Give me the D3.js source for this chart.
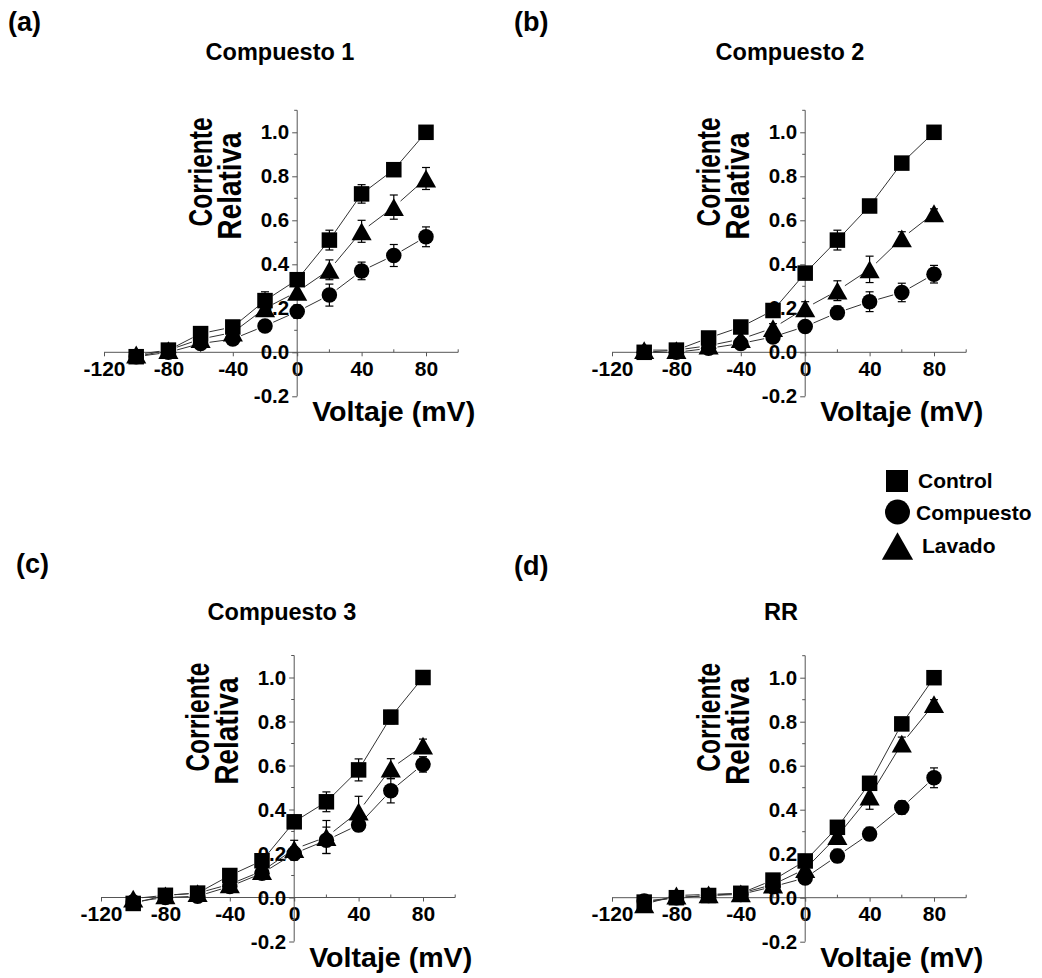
<!DOCTYPE html>
<html>
<head>
<meta charset="utf-8">
<script src="https://cdn.jsdelivr.net/npm/d3@7"></script>
<style>
  html, body { margin: 0; padding: 0; background: #fff; }
  svg { display: block; font-family: "Liberation Sans", Arial, sans-serif; font-weight: bold; }
</style>
</head>
<body>
<svg id="chart" width="1042" height="978"></svg>
<script>
// Test potentials (mV)
const voltages = [-100, -80, -60, -40, -20, 0, 20, 40, 60, 80];
const seriesNames = ["Control", "Compuesto", "Lavado"];
const panelLabels = ["(a)", "(b)", "(c)", "(d)"];
const panelTitles = ["Compuesto 1", "Compuesto 2", "Compuesto 3", "RR"];
const xTickValues = [-120, -80, -40, 0, 40, 80];
const xMinorValues = [-100, -60, -20, 20, 60, 100];
const yTickValues = [-0.2, 0.0, 0.2, 0.4, 0.6, 0.8, 1.0];
const yMinorValues = [-0.1, 0.1, 0.3, 0.5, 0.7, 0.9, 1.1];
const xLabel = "Voltaje (mV)";
const yLabelLines = ["Corriente", "Relativa"];

// Relative current, mean values
const control1   = [-0.02, 0.01, 0.085, 0.115, 0.235, 0.33, 0.51, 0.72, 0.83, 1.00];
const compuesto1 = [-0.02, 0.00, 0.04, 0.06, 0.12, 0.185, 0.26, 0.37, 0.44, 0.525];
const lavado1    = [-0.01, 0.01, 0.06, 0.09, 0.20, 0.275, 0.375, 0.55, 0.66, 0.79];

const control2   = [0.00, 0.01, 0.065, 0.115, 0.19, 0.36, 0.51, 0.665, 0.86, 1.00];
const compuesto2 = [0.00, 0.00, 0.018, 0.04, 0.07, 0.117, 0.18, 0.23, 0.272, 0.355];
const lavado2    = [0.01, 0.01, 0.03, 0.06, 0.11, 0.20, 0.28, 0.377, 0.518, 0.632];

const control3   = [-0.027, 0.01, 0.02, 0.10, 0.167, 0.344, 0.435, 0.58, 0.82, 1.00];
const compuesto3 = [-0.02, 0.00, 0.006, 0.05, 0.11, 0.20, 0.26, 0.33, 0.485, 0.605];
const lavado3    = [-0.005, 0.01, 0.02, 0.06, 0.12, 0.22, 0.275, 0.39, 0.586, 0.69];

const controlRR   = [-0.02, 0.00, 0.01, 0.02, 0.08, 0.167, 0.32, 0.52, 0.79, 1.00];
const compuestoRR = [-0.015, 0.00, 0.01, 0.015, 0.05, 0.09, 0.19, 0.29, 0.41, 0.545];
const lavadoRR    = [-0.03, 0.01, 0.015, 0.02, 0.06, 0.13, 0.28, 0.46, 0.70, 0.88];

// Standard errors
const controlErr1   = [0.01, 0.01, 0.01, 0.02, 0.04, 0.02, 0.045, 0.042, 0.02, 0.01];
const compuestoErr1 = [0.01, 0.01, 0.01, 0.02, 0.02, 0.03, 0.05, 0.04, 0.05, 0.045];
const lavadoErr1    = [0.01, 0.01, 0.01, 0.02, 0.02, 0.03, 0.045, 0.05, 0.055, 0.05];

const controlErr2   = [0.01, 0.01, 0.01, 0.02, 0.02, 0.02, 0.045, 0.02, 0.02, 0.01];
const compuestoErr2 = [0.005, 0.005, 0.01, 0.01, 0.02, 0.02, 0.03, 0.045, 0.042, 0.04];
const lavadoErr2    = [0.01, 0.01, 0.01, 0.01, 0.02, 0.03, 0.045, 0.06, 0.03, 0.02];

const controlErr3   = [0.01, 0.01, 0.01, 0.02, 0.03, 0.03, 0.045, 0.05, 0.03, 0.01];
const compuestoErr3 = [0.01, 0.01, 0.01, 0.02, 0.02, 0.03, 0.06, 0.03, 0.055, 0.035];
const lavadoErr3    = [0.01, 0.01, 0.01, 0.02, 0.03, 0.04, 0.075, 0.07, 0.045, 0.03];

const controlErrRR   = [0.01, 0.01, 0.01, 0.01, 0.02, 0.02, 0.03, 0.03, 0.02, 0.01];
const compuestoErrRR = [0.01, 0.01, 0.01, 0.01, 0.02, 0.02, 0.03, 0.03, 0.03, 0.045];
const lavadoErrRR    = [0.01, 0.01, 0.01, 0.01, 0.02, 0.03, 0.035, 0.058, 0.03, 0.02];

const panelSeries = [
  [[control1, controlErr1], [compuesto1, compuestoErr1], [lavado1, lavadoErr1]],
  [[control2, controlErr2], [compuesto2, compuestoErr2], [lavado2, lavadoErr2]],
  [[control3, controlErr3], [compuesto3, compuestoErr3], [lavado3, lavadoErr3]],
  [[controlRR, controlErrRR], [compuestoRR, compuestoErrRR], [lavadoRR, lavadoErrRR]]
];

// Page layout of the four panels
const layout = [
  { x0: 104, y0: 352.3, label: [8, 31],   title: [280, 60] },
  { x0: 612, y0: 352.3, label: [514, 31], title: [790, 60] },
  { x0: 101, y0: 897.5, label: [16, 573], title: [282, 620] },
  { x0: 612, y0: 897.7, label: [514, 575], title: [781, 620] }
];
const pxPerMv = 1.61;
const pxPerUnit = 220;

const svg = d3.select("#chart");
const axisColor = "#555";
const ink = "#000";
const fontStack = "Liberation Sans, Arial, sans-serif";
// tick numbers use a plain hyphen for negatives
const fmtX = d => d3.format("d")(d).replace("\u2212", "-");
const fmtY = d => d3.format(".1f")(d).replace("\u2212", "-");

function drawMarker(g, kind, cx, cy, s) {
  if (kind === 0) {
    g.append("rect").attr("x", cx - s / 2).attr("y", cy - s / 2)
      .attr("width", s).attr("height", s).attr("fill", ink);
  } else if (kind === 1) {
    g.append("circle").attr("cx", cx).attr("cy", cy).attr("r", s / 2).attr("fill", ink);
  } else {
    const w = s * 1.3, h = s * 1.15;
    g.append("path")
      .attr("d", `M${cx - w / 2},${cy + h / 2}L${cx + w / 2},${cy + h / 2}L${cx},${cy - h / 2}Z`)
      .attr("fill", ink);
  }
}

layout.forEach((L, p) => {
  const x = d3.scaleLinear().domain([-120, 100]).range([L.x0, L.x0 + 220 * pxPerMv]);
  const y = d3.scaleLinear().domain([-0.2, 1.1]).range([L.y0 + 0.2 * pxPerUnit, L.y0 - 1.1 * pxPerUnit]);
  const g = svg.append("g");

  // panel letter and title
  g.append("text").attr("x", L.label[0]).attr("y", L.label[1])
    .attr("font-size", 27).text(panelLabels[p]);
  g.append("text").attr("x", L.title[0]).attr("y", L.title[1])
    .attr("text-anchor", "middle").attr("font-size", 23.5).text(panelTitles[p]);

  // x axis through zero current
  const xAxis = g.append("g").attr("transform", `translate(0,${y(0)})`)
    .call(d3.axisBottom(x).tickValues(xTickValues).tickSize(4).tickFormat(fmtX));
  xAxis.select(".domain").attr("stroke", axisColor).attr("d", `M${x(-120)},0H${x(100)}`);
  xAxis.selectAll(".tick line").attr("stroke", axisColor);
  xAxis.selectAll(".tick text").attr("fill", ink).attr("font-size", 21)
    .attr("font-family", fontStack).attr("font-weight", "bold")
    .attr("dy", "0.78em");
  g.append("g").selectAll("line").data(xMinorValues).join("line")
    .attr("x1", d => x(d)).attr("x2", d => x(d))
    .attr("y1", y(0)).attr("y2", y(0) - 3).attr("stroke", axisColor);

  // y axis through zero voltage
  const yAxis = g.append("g").attr("transform", `translate(${x(0)},0)`)
    .call(d3.axisLeft(y).tickValues(yTickValues).tickSize(5).tickFormat(fmtY));
  yAxis.select(".domain").attr("stroke", axisColor).attr("d", `M0,${y(-0.2)}V${y(1.1)}`);
  yAxis.selectAll(".tick line").attr("stroke", axisColor);
  yAxis.selectAll(".tick text").attr("fill", ink).attr("font-size", 20.5)
    .attr("font-family", fontStack).attr("font-weight", "bold")
    .attr("x", -8);
  g.append("g").selectAll("line").data(yMinorValues).join("line")
    .attr("x1", x(0)).attr("x2", x(0) - 3)
    .attr("y1", d => y(d)).attr("y2", d => y(d)).attr("stroke", axisColor);

  // axis titles
  g.append("text").attr("x", x(0) + 15).attr("y", y(-0.2) + 25)
    .attr("font-size", 28.5).attr("textLength", 163).attr("lengthAdjust", "spacingAndGlyphs")
    .text(xLabel);
  const ylg = g.append("g").attr("transform", `translate(${x(0) - 85},${y(0.82)}) rotate(-90)`);
  ylg.append("text").attr("x", 0).attr("y", 0).attr("text-anchor", "middle")
    .attr("font-size", 34).attr("textLength", 109).attr("lengthAdjust", "spacingAndGlyphs")
    .text(yLabelLines[0]);
  ylg.append("text").attr("x", -14).attr("y", 29).attr("text-anchor", "middle")
    .attr("font-size", 34).attr("textLength", 107).attr("lengthAdjust", "spacingAndGlyphs")
    .text(yLabelLines[1]);

  // connecting lines, broken around each symbol
  const gap = 9;
  panelSeries[p].forEach(([vals]) => {
    const pts = voltages.map((v, i) => [x(v), y(vals[i])]);
    for (let i = 0; i < pts.length - 1; i++) {
      const [ax, ay] = pts[i], [bx, by] = pts[i + 1];
      const len = Math.hypot(bx - ax, by - ay);
      if (len <= 2 * gap + 1) continue;
      const ux = (bx - ax) / len, uy = (by - ay) / len;
      g.append("line")
        .attr("x1", ax + ux * gap).attr("y1", ay + uy * gap)
        .attr("x2", bx - ux * gap).attr("y2", by - uy * gap)
        .attr("stroke", "#333").attr("stroke-width", 1);
    }
  });

  // error bars
  panelSeries[p].forEach(([vals, errs]) => {
    voltages.forEach((v, i) => {
      const cx = x(v), top = y(vals[i] + errs[i]), bot = y(vals[i] - errs[i]);
      g.append("line").attr("x1", cx).attr("x2", cx).attr("y1", top).attr("y2", bot)
        .attr("stroke", ink).attr("stroke-width", 1.2);
      [top, bot].forEach(yy => g.append("line")
        .attr("x1", cx - 4).attr("x2", cx + 4).attr("y1", yy).attr("y2", yy)
        .attr("stroke", ink).attr("stroke-width", 1.2));
    });
  });

  // symbols
  panelSeries[p].forEach(([vals], k) => {
    voltages.forEach((v, i) => drawMarker(g, k, x(v), y(vals[i]), 15.5));
  });
});

// legend
const legend = svg.append("g");
const legendRows = [[897, 481, 0, 22], [897.5, 512, 1, 25], [897.5, 546, 2, 24]];
const legendText = [[918, 488], [916, 520], [922, 553]];
seriesNames.forEach((name, k) => {
  const [cx, cy, kind, s] = legendRows[k];
  drawMarker(legend, kind, cx, cy, s);
  legend.append("text").attr("x", legendText[k][0]).attr("y", legendText[k][1])
    .attr("font-size", 21).text(name);
});
</script>
</body>
</html>
